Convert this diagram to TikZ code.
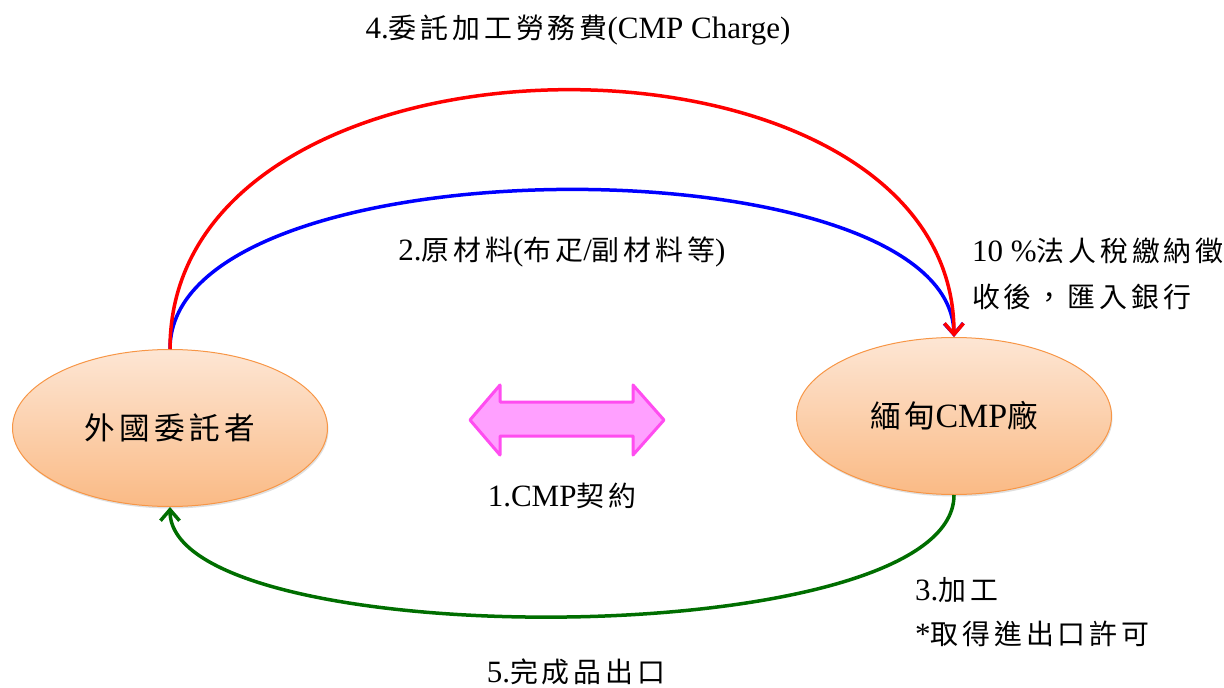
\documentclass[tikz,border=0pt]{standalone}
\usepackage{fontspec}
\setmainfont{Liberation Serif}
\newfontfamily\cjk[Scale=0.9,LetterSpace=14]{Noto Sans CJK TC}
\newcommand\zh[1]{{\cjk #1}}
\usetikzlibrary{shapes.geometric,arrows.meta,shadows}
\definecolor{ellline}{HTML}{F79646}
\definecolor{elltop}{HTML}{FDE6D4}
\definecolor{ellbot}{HTML}{FABA85}
\definecolor{cred}{HTML}{FF0000}
\definecolor{cblue}{HTML}{0000FF}
\definecolor{cgreen}{HTML}{006E00}
\definecolor{pinkfill}{HTML}{FFA0FF}
\definecolor{pinkline}{HTML}{FF4DF0}
\begin{document}
\begin{tikzpicture}[x=1pt,y=-1pt,
  party/.style={ellipse, draw=ellline, line width=1pt, top color=elltop, bottom color=ellbot,
    minimum width=315pt, minimum height=157pt, inner sep=0pt,
    font=\fontsize{34}{40}\selectfont,
    drop shadow={shadow xshift=1pt, shadow yshift=-2pt, opacity=0.25}},
  lbl/.style={font=\fontsize{31}{37}\selectfont, inner sep=0pt},
  flow/.style={line width=3.5pt},
  tip/.style={-{Straight Barb[length=11pt,width=19pt]}}
]
\useasboundingbox (0,0) rectangle (1224,688);

\node[party] (L) at (170,428) {\zh{外國委託者}};
\node[party] (R) at (954,416) {\zh{緬甸}CMP\zh{廠}};

% connectors
\draw[flow, cblue, tip] (L.north) .. controls (170,139) and (950,139) .. (R.north);
\draw[flow, cred, tip] (L.north) .. controls (170,6) and (954,6) .. (R.north);
\draw[flow, cgreen, tip] (R.south) .. controls (954,655) and (170,655) .. (L.south);

% contract double arrow
\draw[draw=pinkline, fill=pinkfill, line width=3pt, line join=round]
  (470,420) -- (500,385) -- (500,402) -- (633,402) -- (633,385) -- (664,420)
  -- (633,455) -- (633,436) -- (500,436) -- (500,455) -- cycle;

% labels
\node[lbl] (t4) at (578,30) {4.\zh{委託加工勞務費}(CMP Charge)};
\node[lbl] (t2) at (562,252) {2.\zh{原材料}(\zh{布疋}/\zh{副材料等})};
\node[lbl, anchor=west] (tax1) at (972,251) {10 \%\zh{法人稅繳納徵}};
\node[lbl, anchor=west] (tax2) at (972,297) {\zh{收後，匯入銀行}};
\node[lbl] (t1) at (562,496) {1.CMP\zh{契約}};
\node[lbl, anchor=west] (t3a) at (915,590) {3.\zh{加工}};
\node[lbl, anchor=west] (t3b) at (915,634) {*\zh{取得進出口許可}};
\node[lbl] (t5) at (576,672) {5.\zh{完成品出口}};
\end{tikzpicture}
\end{document}
